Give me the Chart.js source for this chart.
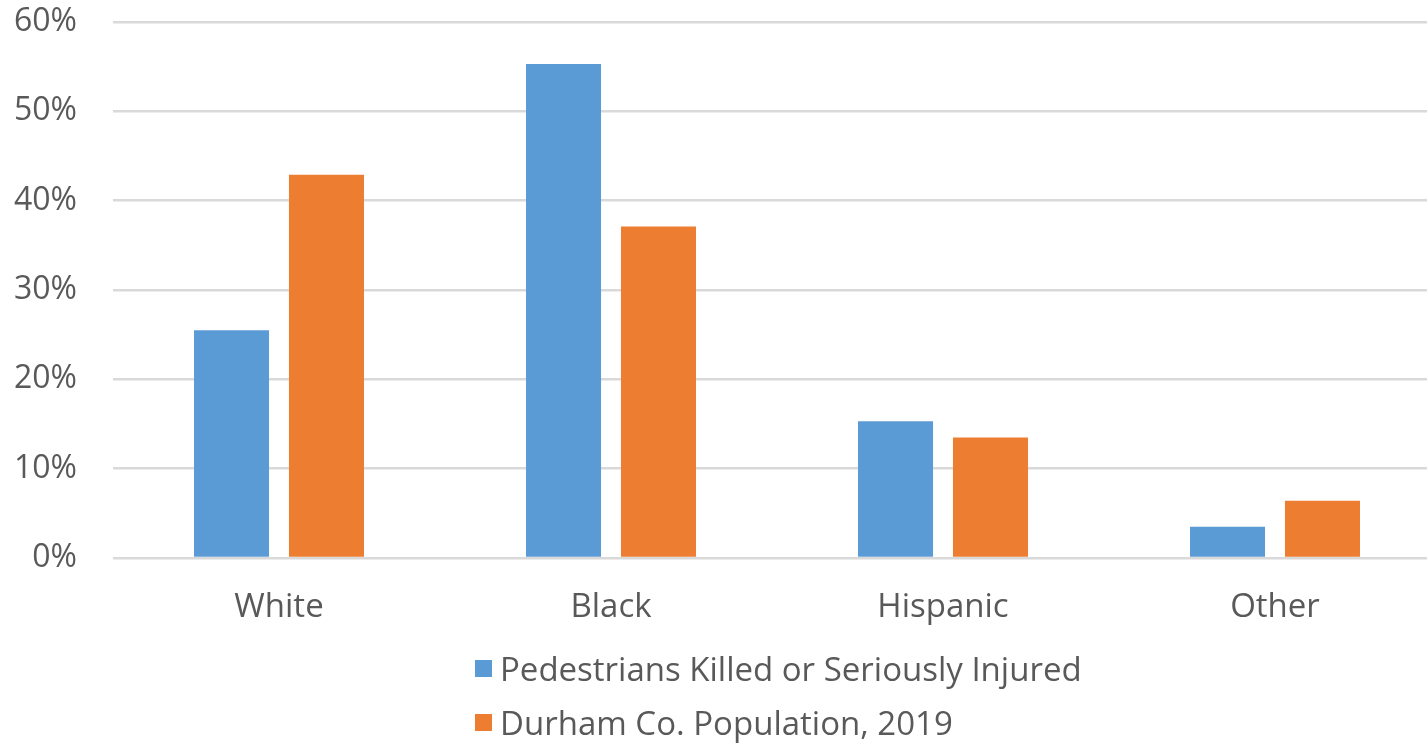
<!DOCTYPE html>
<html>
<head>
<meta charset="utf-8">
<script src="https://cdn.jsdelivr.net/npm/chart.js@4.4.0/dist/chart.umd.min.js"></script>
<style>
  html, body { margin: 0; padding: 0; background: #fff; overflow: hidden; }
  #wrap { position: relative; width: 1427px; height: 743px; overflow: hidden; }
  #legend { position: absolute; left: 475px; top: 641px; font-family: "Open Sans", sans-serif; font-size: 33px; color: #595959; }
  #legend div { display: flex; align-items: center; height: 54px; }
  #legend span.box { display: inline-block; width: 17px; height: 17px; margin-right: 8px; }
</style>
</head>
<body>
<div id="wrap">
  <canvas id="myChart" width="1441" height="743"></canvas>
  <div id="legend"></div>
</div>
<script>
const categories = ['White', 'Black', 'Hispanic', 'Other'];
const seriesNames = ['Pedestrians Killed or Seriously Injured', 'Durham Co. Population, 2019'];
const pedestrians = [25.5, 55.3, 15.3, 3.5];
const population = [42.9, 37.1, 13.5, 6.4];
const yTicks = [0, 10, 20, 30, 40, 50, 60];
const colors = ['#5B9BD5', '#ED7D31'];

const ctx = document.getElementById('myChart');

const myChart = new Chart(ctx, {
  type: 'bar',
  data: {
    labels: categories,
    datasets: [{
      label: seriesNames[0],
      data: pedestrians,
      backgroundColor: colors[0],
      categoryPercentage: 0.572,
      barPercentage: 0.79
    }, {
      label: seriesNames[1],
      data: population,
      backgroundColor: colors[1],
      categoryPercentage: 0.572,
      barPercentage: 0.79
    }]
  },
  options: {
    responsive: false,
    animation: false,
    layout: { padding: { top: 22, right: 0, left: 0, bottom: 0 } },
    scales: {
      x: {
        grid: { display: false },
        border: { display: false },
        ticks: { color: '#595959', font: { family: 'Open Sans', size: 33 }, padding: 22 },
        afterFit: (axis) => { axis.height = 185; axis.paddingLeft = 0; axis.paddingRight = 0; }
      },
      y: {
        min: 0,
        max: 60,
        afterBuildTicks: (axis) => { axis.ticks = yTicks.map(v => ({ value: v })); },
        grid: { color: '#d9d9d9', lineWidth: 2.5, drawTicks: false },
        border: { display: false },
        ticks: {
          color: '#595959',
          font: { family: 'Open Sans', size: 32 },
          padding: 36,
          callback: (v) => v + '%'
        },
        afterFit: (axis) => { axis.width = 113; axis.paddingTop = 0; axis.paddingBottom = 0; }
      }
    },
    plugins: {
      legend: { display: false },
      tooltip: { enabled: false }
    }
  }
});

const legend = document.getElementById('legend');
seriesNames.forEach((name, i) => {
  const row = document.createElement('div');
  const box = document.createElement('span');
  box.className = 'box';
  box.style.background = colors[i];
  row.appendChild(box);
  row.appendChild(document.createTextNode(name));
  legend.appendChild(row);
});
</script>
</body>
</html>
